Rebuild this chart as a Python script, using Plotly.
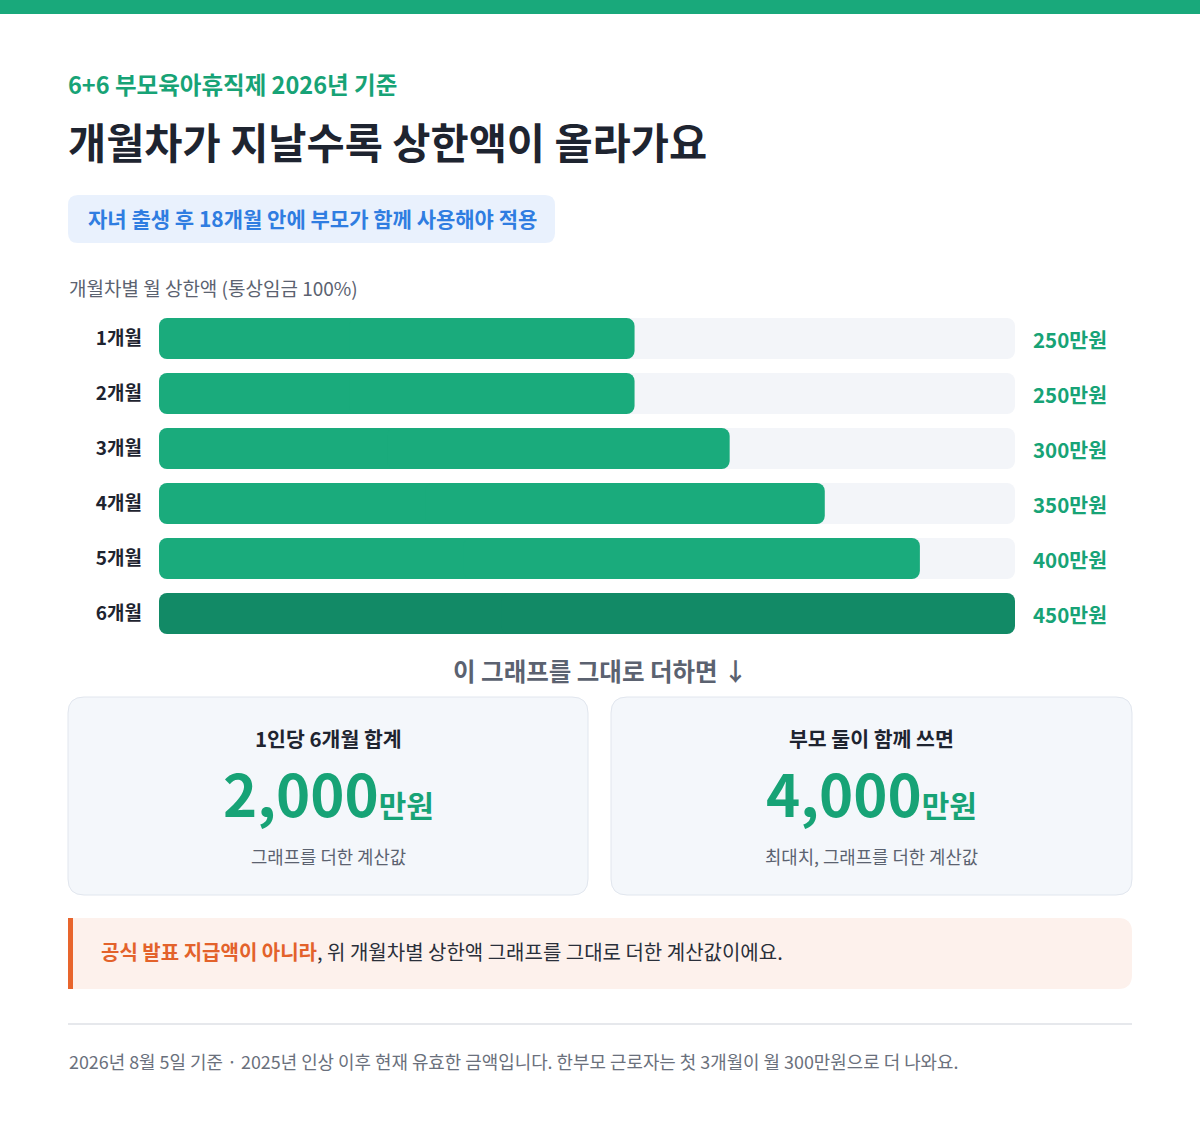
import plotly.graph_objects as go

W, H = 1200, 1128
FONT = "Noto Sans CJK KR"

# ---------------- data ----------------
months = ["1개월", "2개월", "3개월", "4개월", "5개월", "6개월"]
caps = [250, 250, 300, 350, 400, 450]          # 월 상한액 (만원)
unit = "만원"

eyebrow = "6+6 부모육아휴직제 2026년 기준"
title = "개월차가 지날수록 상한액이 올라가요"
pill_text = "자녀 출생 후 18개월 안에 부모가 함께 사용해야 적용"
section = "개월차별 월 상한액 (통상임금 100%)"
bridge = "이 그래프를 그대로 더하면 ↓"
card_titles = ["1인당 6개월 합계", "부모 둘이 함께 쓰면"]
card_multipliers = [1, 2]
card_subs = ["그래프를 더한 계산값", "최대치, 그래프를 더한 계산값"]
note_strong = "공식 발표 지급액이 아니라"
note_rest = ", 위 개월차별 상한액 그래프를 그대로 더한 계산값이에요."
footer = ("2026년 8월 5일 기준 · 2025년 인상 이후 현재 유효한 금액입니다. "
          "한부모 근로자는 첫 3개월이 월 300만원으로 더 나와요.")

# ---------------- colors ----------------
GREEN = "#1AAB7C"
GREEN_DARK = "#128A66"
GREEN_TXT = "#17A376"
TRACK = "#F3F5F9"
DARK = "#1E2430"
GRAY = "#5B6270"


def fx(p):
    return p / W


def fy(p):
    return 1 - p / H


def rrect(x0, y0, x1, y1, r, square_left=False):
    rl = 0 if square_left else r
    pts = [
        ("M", [(x0 + rl, y0)]),
        ("L", [(x1 - r, y0)]),
        ("Q", [(x1, y0), (x1, y0 + r)]),
        ("L", [(x1, y1 - r)]),
        ("Q", [(x1, y1), (x1 - r, y1)]),
        ("L", [(x0 + rl, y1)]),
        ("Q", [(x0, y1), (x0, y1 - rl)]),
        ("L", [(x0, y0 + rl)]),
        ("Q", [(x0, y0), (x0 + rl, y0)]),
    ]
    s = ""
    for cmd, ps in pts:
        s += cmd + " " + " ".join(f"{fx(a):.5f},{fy(b):.5f}" for a, b in ps) + " "
    return s + "Z"


fig = go.Figure()

vmax = max(caps)


def rounded_bar(values, colors):
    # plotly rounds only the end away from the base, so each bar is drawn as
    # two overlapping halves growing outward from its middle -> both ends round
    lo = [v * 0.6 for v in values]
    hi = [v * 0.4 for v in values]
    fig.add_trace(go.Bar(
        y=months, x=[-v for v in lo], base=lo, orientation="h",
        marker=dict(color=colors, cornerradius=8, line=dict(width=0)),
        hoverinfo="skip", showlegend=False,
    ))
    fig.add_trace(go.Bar(
        y=months, x=[v * 0.6 for v in values], base=hi, orientation="h",
        marker=dict(color=colors, cornerradius=8, line=dict(width=0)),
        hoverinfo="skip", showlegend=False,
    ))


# background tracks (full scale)
rounded_bar([vmax] * len(months), [TRACK] * len(months))
# value bars
rounded_bar(caps, [GREEN_DARK if v == vmax else GREEN for v in caps])

shapes = []
annotations = []

# top band
shapes.append(dict(type="rect", xref="paper", yref="paper",
                   x0=0, x1=1, y0=fy(14), y1=1, fillcolor="#19A97B",
                   line=dict(width=0), layer="below"))
# pill
shapes.append(dict(type="path", xref="paper", yref="paper",
                   path=rrect(68, 195, 555, 243, 10),
                   fillcolor="#E9F1FD", line=dict(width=0), layer="below"))
# cards
card_x = [(68, 588), (611, 1132)]
for x0, x1 in card_x:
    shapes.append(dict(type="path", xref="paper", yref="paper",
                       path=rrect(x0, 697, x1, 895, 16),
                       fillcolor="#F4F7FB", line=dict(color="#E1E6EE", width=1),
                       layer="below"))
# note box
shapes.append(dict(type="path", xref="paper", yref="paper",
                   path=rrect(68, 918, 1132, 989, 14, square_left=True),
                   fillcolor="#FDF1EC", line=dict(width=0), layer="below"))
shapes.append(dict(type="rect", xref="paper", yref="paper",
                   x0=fx(68), x1=fx(73), y0=fy(989), y1=fy(918),
                   fillcolor="#E8652D", line=dict(width=0), layer="below"))
# divider
shapes.append(dict(type="line", xref="paper", yref="paper",
                   x0=fx(68), x1=fx(1132), y0=fy(1024), y1=fy(1024),
                   line=dict(color="#E6E8EC", width=2), layer="below"))


def ann(text, x, y, size, color, weight=400, xanchor="left"):
    annotations.append(dict(
        text=text, x=fx(x), y=fy(y), xref="paper", yref="paper",
        xanchor=xanchor, yanchor="middle", showarrow=False,
        font=dict(family=FONT, size=size, color=color, weight=weight),
    ))


ann(eyebrow, 66, 84, 23.5, GREEN_TXT, 700)
ann(title, 66, 141, 41.5, DARK, 700)
ann(pill_text, 86, 218, 21, "#2F7DE1", 700)
ann(section, 67, 288, 19, GRAY, 400)
ann(bridge, 600, 670, 24.5, GRAY, 700, "center")

total = sum(caps)
for (x0, x1), t, m, s in zip(card_x, card_titles, card_multipliers, card_subs):
    cx = (x0 + x1) / 2
    ann(t, cx, 738, 20.5, DARK, 700, "center")
    ann(f"{total * m:,}<span style='font-size:30px'>{unit}</span>",
        cx, 792, 58, GREEN_TXT, 700, "center")
    ann(s, cx, 856, 17.8, GRAY, 400, "center")

ann(f"<span style='color:#E3622B'><b>{note_strong}</b></span>{note_rest}",
    99, 951, 20, "#2A2F3A", 400)
ann(footer, 67, 1061, 17.9, "#6A707C", 400)

# value labels next to tracks
for m, v in zip(months, caps):
    annotations.append(dict(
        text=f"{v}{unit}", x=vmax, y=m, xref="x", yref="y",
        xanchor="left", yanchor="middle", xshift=16, showarrow=False,
        font=dict(family=FONT, size=20.5, color=GREEN_TXT, weight=700),
    ))

fig.update_layout(
    width=W, height=H, autosize=False,
    margin=dict(l=0, r=0, t=0, b=0, pad=0),
    paper_bgcolor="white", plot_bgcolor="rgba(0,0,0,0)",
    barmode="overlay", bargap=1 - 41 / 55,
    shapes=shapes, annotations=annotations,
    font=dict(family=FONT),
    xaxis=dict(domain=[fx(159), fx(1015)], range=[0, vmax], visible=False,
               fixedrange=True),
    yaxis=dict(domain=[fy(641), fy(311)], autorange="reversed",
               showgrid=False, zeroline=False, showline=False, ticks="",
               ticklabelstandoff=16, fixedrange=True,
               tickfont=dict(family=FONT, size=19, color=DARK, weight=700)),
    hovermode=False,
)

fig.write_html("out.html", config={"displayModeBar": False},
               post_script="document.body.style.margin='0';")
